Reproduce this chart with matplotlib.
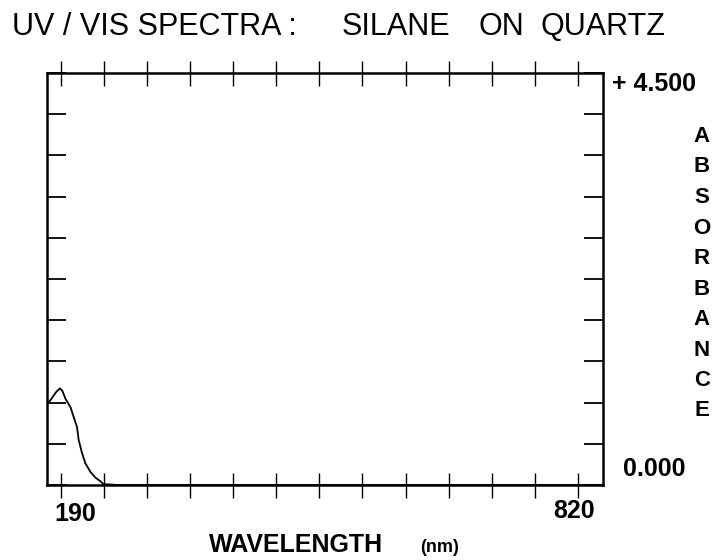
import numpy as np
import matplotlib
matplotlib.use('Agg')
import matplotlib.pyplot as plt

plt.rcParams['font.family'] = ['Liberation Sans', 'DejaVu Sans']

# spectrum (nm, absorbance)
wavelength = [174, 177, 181, 184, 188.8, 192, 196, 202, 206, 210, 212, 216,
              220, 226.5, 232.5, 238.6, 242, 260, 400, 600, 820, 850]
absorbance = [0.90, 0.92, 0.97, 1.01, 1.055, 1.03, 0.94, 0.85, 0.74, 0.63, 0.49,
              0.35, 0.24, 0.14, 0.08, 0.04, 0.01, 0.0, 0.0, 0.0, 0.0, 0.0]

x_min, x_max = 190, 820
y_min, y_max = 0.0, 4.5
x_ticks = np.linspace(x_min, x_max, 13)
y_ticks = np.linspace(y_min, y_max, 11)

W, H = 717, 560

fig = plt.figure(figsize=(7.17, 5.6), dpi=100)
ax = fig.add_axes([47 / W, 1 - 485 / H, 556 / W, 412 / H])

ax.plot(wavelength, absorbance, color='black', lw=1.3)
ax.set_xlim(173.4, 850.4)
ax.set_ylim(y_min, y_max)

ax.set_xticks(x_ticks)
ax.set_yticks(y_ticks)
ax.set_xticklabels([])
ax.set_yticklabels([])
ax.tick_params(axis='x', which='both', direction='inout', length=18, width=1,
               top=True, bottom=True)
ax.tick_params(axis='y', which='both', direction='in', length=14, width=1.3,
               left=True, right=True)
for s in ax.spines.values():
    s.set_linewidth(1.8)


def px(x, y, s, **kw):
    # place text by pixel position of the reference
    fig.text(x / W, 1 - y / H, s, **kw)


# title
px(12, 27, 'UV / VIS SPECTRA :', fontsize=22, ha='left', va='center')
px(342, 27, 'SILANE', fontsize=22, ha='left', va='center')
px(478, 27, 'ON', fontsize=22, ha='left', va='center')
px(540, 27, 'QUARTZ', fontsize=22, ha='left', va='center')

# x labels
px(75.5, 514, '190', fontsize=18, weight='bold', ha='center', va='center')
px(574, 511, '820', fontsize=18, weight='bold', ha='center', va='center')
px(296, 545, 'WAVELENGTH', fontsize=18, weight='bold', ha='center', va='center')
px(420, 547, '(nm)', fontsize=13, weight='bold', ha='left', va='center')

# y range labels
px(612, 84, '+ 4.500', fontsize=18, weight='bold', ha='left', va='center')
px(623, 469, '0.000', fontsize=18, weight='bold', ha='left', va='center')

letters = 'ABSORBANCE'
for i, ch in enumerate(letters):
    px(702, 136.5 + i * 30.5, ch, fontsize=16, weight='bold',
       ha='center', va='center')

fig.savefig('out.png', dpi=100)
